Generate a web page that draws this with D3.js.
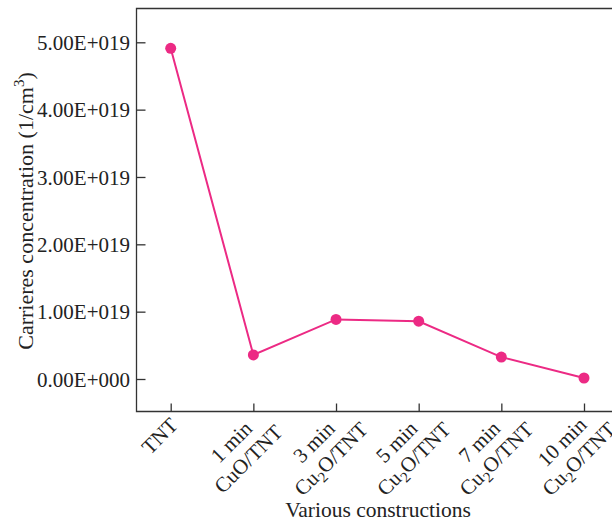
<!DOCTYPE html>
<html>
<head>
<meta charset="utf-8">
<script src="https://cdn.jsdelivr.net/npm/d3@7"></script>
<style>
  html, body { margin: 0; padding: 0; background: #fff; }
  svg { display: block; }
  text { font-family: "Liberation Serif", "Times New Roman", serif; fill: #222; }
</style>
</head>
<body>
<script>
// Carrier concentration for each construction
const categories = ["TNT", "1 min CuO/TNT", "3 min Cu2O/TNT", "5 min Cu2O/TNT", "7 min Cu2O/TNT", "10 min Cu2O/TNT"];
// Tick label lines: each line is a list of [text, isSubscript] runs
const tickLabelLines = [
  [[["TNT", false]]],
  [[["1 min", false]], [["CuO/TNT", false]]],
  [[["3 min", false]], [["Cu", false], ["2", true], ["O/TNT", false]]],
  [[["5 min", false]], [["Cu", false], ["2", true], ["O/TNT", false]]],
  [[["7 min", false]], [["Cu", false], ["2", true], ["O/TNT", false]]],
  [[["10 min", false]], [["Cu", false], ["2", true], ["O/TNT", false]]]
];
const concentration = [4.91e19, 0.357e19, 0.885e19, 0.858e19, 0.325e19, 0.015e19];
const yTicks = [0, 1e19, 2e19, 3e19, 4e19, 5e19];
const yTickLabels = ["0.00E+000", "1.00E+019", "2.00E+019", "3.00E+019", "4.00E+019", "5.00E+019"];

const W = 612, H = 526;
const frame = { left: 136.5, top: 8.5, right: 640, bottom: 411.5 };
const lineColor = "#EC2A84";
const fs = 21;

const svg = d3.select("body").append("svg")
  .attr("width", W).attr("height", H);

const x = d3.scalePoint()
  .domain(categories)
  .range([170.7, 584])
  .padding(0);

const y = d3.scaleLinear()
  .domain([0, 5e19])
  .range([379, 42.3]);

// Plot frame (right edge runs past the page)
svg.append("path")
  .attr("d", `M${frame.right},${frame.top}H${frame.left}V${frame.bottom}H${frame.right}`)
  .attr("fill", "none")
  .attr("stroke", "#333")
  .attr("stroke-width", 1.3);

// Y axis: inward ticks
const yAxis = d3.axisLeft(y)
  .tickValues(yTicks)
  .tickSize(-9)
  .tickFormat((d, i) => yTickLabels[i]);

const gy = svg.append("g")
  .attr("transform", `translate(${frame.left},0)`)
  .call(yAxis);
gy.select(".domain").remove();
gy.selectAll(".tick line").attr("stroke", "#333").attr("stroke-width", 1.3);
gy.selectAll(".tick text")
  .attr("font-size", fs)
  .attr("font-family", "Liberation Serif, serif")
  .attr("fill", "#222")
  .attr("x", -6.5)
  .attr("dy", "0.34em");

// X axis: inward ticks
const xAxis = d3.axisBottom(x).tickSize(-8).tickFormat("");
const gx = svg.append("g")
  .attr("transform", `translate(0,${frame.bottom})`)
  .call(xAxis);
gx.select(".domain").remove();
gx.selectAll(".tick line").attr("stroke", "#333").attr("stroke-width", 1.3);

// Rotated, centre-aligned multi-line category labels
const lineH = 24;
categories.forEach((c, i) => {
  const lines = tickLabelLines[i];
  const n = lines.length;
  const cx = x(c) + (n === 1 ? -11 : -13.5);
  const cy = n === 1 ? 436 : 450.5;
  const g = svg.append("g")
    .attr("transform", `translate(${cx},${cy}) rotate(-45)`);
  lines.forEach((runs, j) => {
    const t = g.append("text")
      .attr("text-anchor", "middle")
      .attr("font-size", fs)
      .attr("x", 0)
      .attr("y", (j - (n - 1) / 2) * lineH + 7);
    runs.forEach(([s, sub]) => {
      const ts = t.append("tspan").text(s);
      if (sub) ts.attr("font-size", 15).attr("dy", 5);
      else if (t.selectAll("tspan").size() > 1) ts.attr("dy", -5);
    });
  });
});

// Series line and markers
svg.append("path")
  .datum(concentration)
  .attr("fill", "none")
  .attr("stroke", lineColor)
  .attr("stroke-width", 2)
  .attr("d", d3.line().x((d, i) => x(categories[i])).y(d => y(d)));

svg.append("g").selectAll("circle")
  .data(concentration)
  .join("circle")
  .attr("cx", (d, i) => x(categories[i]))
  .attr("cy", d => y(d))
  .attr("r", 5.5)
  .attr("fill", lineColor);

// Axis titles
svg.append("text")
  .attr("x", 378).attr("y", 517)
  .attr("text-anchor", "middle")
  .attr("font-size", 21.5)
  .text("Various constructions");

const yt = svg.append("text")
  .attr("transform", "translate(33,211) rotate(-90)")
  .attr("text-anchor", "middle")
  .attr("font-size", 22);
yt.append("tspan").text("Carrieres concentration (1/cm");
yt.append("tspan").text("3").attr("font-size", 15).attr("dy", -9);
yt.append("tspan").text(")").attr("dy", 9);
</script>
</body>
</html>
